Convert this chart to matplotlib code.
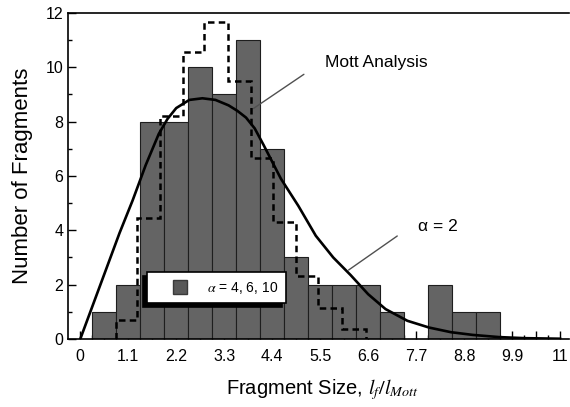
import matplotlib
matplotlib.use("Agg")
import matplotlib.pyplot as plt
from matplotlib.lines import Line2D
from matplotlib.ticker import FixedLocator
import numpy as np

plt.rcParams["font.family"] = ["Liberation Sans", "DejaVu Sans"]
plt.rcParams["mathtext.fontset"] = "stix"

# measured fragment counts (alpha = 4, 6, 10), bins 0.55 wide
bin_centers = [0.55, 1.1, 1.65, 2.2, 2.75, 3.3, 3.85, 4.4, 4.95,
               5.5, 6.05, 6.6, 7.15, 7.7, 8.25, 8.8, 9.35]
counts = [1, 2, 8, 8, 10, 9, 11, 7, 3, 2, 2, 2, 1, 0, 2, 1, 1]
bin_width = 0.55

# Mott analysis histogram (dashed)
mott_edges = [0.83, 1.30, 1.82, 2.35, 2.83, 3.39, 3.92, 4.42, 4.95, 5.45, 5.99, 6.56]
mott_counts = [0.7, 4.45, 8.2, 10.56, 11.67, 9.5, 6.67, 4.29, 2.31, 1.13, 0.35]

# alpha = 2 distribution curve
curve_x = [0, 0.3, 0.6, 0.9, 1.2, 1.5, 1.8, 2.0, 2.2, 2.5, 2.8, 3.1, 3.4, 3.6,
           3.8, 4.0, 4.2, 4.6, 5.0, 5.4, 5.8, 6.2, 6.6, 7.0, 7.5, 8.0, 8.5,
           9.0, 9.6, 10.2, 11.0]
curve_y = [0, 1.3, 2.6, 3.9, 5.1, 6.4, 7.55, 8.1, 8.5, 8.8, 8.86, 8.8, 8.6, 8.4,
           8.15, 7.75, 7.15, 5.9, 4.9, 3.8, 3.0, 2.35, 1.65, 1.1, 0.67, 0.42, 0.25,
           0.15, 0.07, 0.03, 0.01]

xtick_labels = ["0", "1.1", "2.2", "3.3", "4.4", "5.5", "6.6", "7.7", "8.8", "9.9", "11"]

fig = plt.figure(figsize=(5.7, 4.07), dpi=100)
ax = fig.add_axes([0.1198, 0.1671, 0.878, 0.801])

ax.bar(bin_centers, counts, width=bin_width, color="#646464",
       edgecolor="#1e1e1e", linewidth=0.8, zorder=2)
ax.stairs(mott_counts, mott_edges, baseline=0, color="black", lw=1.8,
          linestyle=(0, (2.6, 1.7)), zorder=3)
ax.plot(curve_x, curve_y, color="black", lw=1.9, zorder=4)

ax.set_xlim(-0.275, 11.2)
ax.set_ylim(0, 12)

# ticks: labelled every 1.1, medium every 0.55, small every 0.275
major_x = np.linspace(0, 11, 21)
labels = []
for i in range(21):
    labels.append(xtick_labels[i // 2] if i % 2 == 0 else "")
ax.set_xticks(major_x)
ax.set_xticklabels(labels)
ax.xaxis.set_minor_locator(FixedLocator(np.arange(0.275, 11, 0.55)))
ax.set_yticks(range(0, 13, 2))
ax.yaxis.set_minor_locator(FixedLocator(range(1, 12, 2)))

ax.tick_params(which="major", direction="in", length=6, width=1, labelsize=11.5)
ax.tick_params(which="minor", direction="in", length=3, width=1)
ax.tick_params(axis="x", which="major", pad=7)
ax.tick_params(axis="y", which="major", pad=3.5)

for side in ["left", "bottom", "top"]:
    ax.spines[side].set_linewidth(1.2)
ax.spines["right"].set_visible(False)

ax.set_ylabel("Number of Fragments", fontsize=16)
ax.yaxis.set_label_coords(-0.07, 0.5)
ax.set_xlabel(r"Fragment Size, $l_f/l_{Mott}$", fontsize=14.5)
ax.xaxis.set_label_coords(0.507, -0.118)

# callouts
ax.text(5.605, 10.0, "Mott Analysis", fontsize=12.5, va="baseline", ha="left")
ax.annotate("", xy=(3.92, 8.43), xytext=(5.18, 9.80),
            arrowprops=dict(arrowstyle="-", color="#505050", lw=1.0))
ax.text(7.74, 3.99, "\u03b1 = 2", fontsize=12.5, va="baseline", ha="left")
ax.annotate("", xy=(6.10, 2.48), xytext=(7.32, 3.85),
            arrowprops=dict(arrowstyle="-", color="#505050", lw=1.0))

handle = Line2D([], [], ls="none", marker="s", ms=10.5,
                mfc="#595959", mec="#3a3a3a")
leg = ax.legend([handle], [r"$\alpha$ = 4, 6, 10"], loc="lower left",
                bbox_to_anchor=(0.158, 0.1095), borderaxespad=0,
                fontsize=10, handlelength=3.6, handletextpad=0.15,
                borderpad=0.55, fancybox=False, framealpha=1,
                shadow={"ox": -3, "oy": -3, "facecolor": "black",
                        "edgecolor": "black", "alpha": 1})
leg.get_frame().set_edgecolor("black")
leg.get_frame().set_linewidth(1.2)
leg.set_zorder(6)

fig.savefig("out.png", dpi=100)
